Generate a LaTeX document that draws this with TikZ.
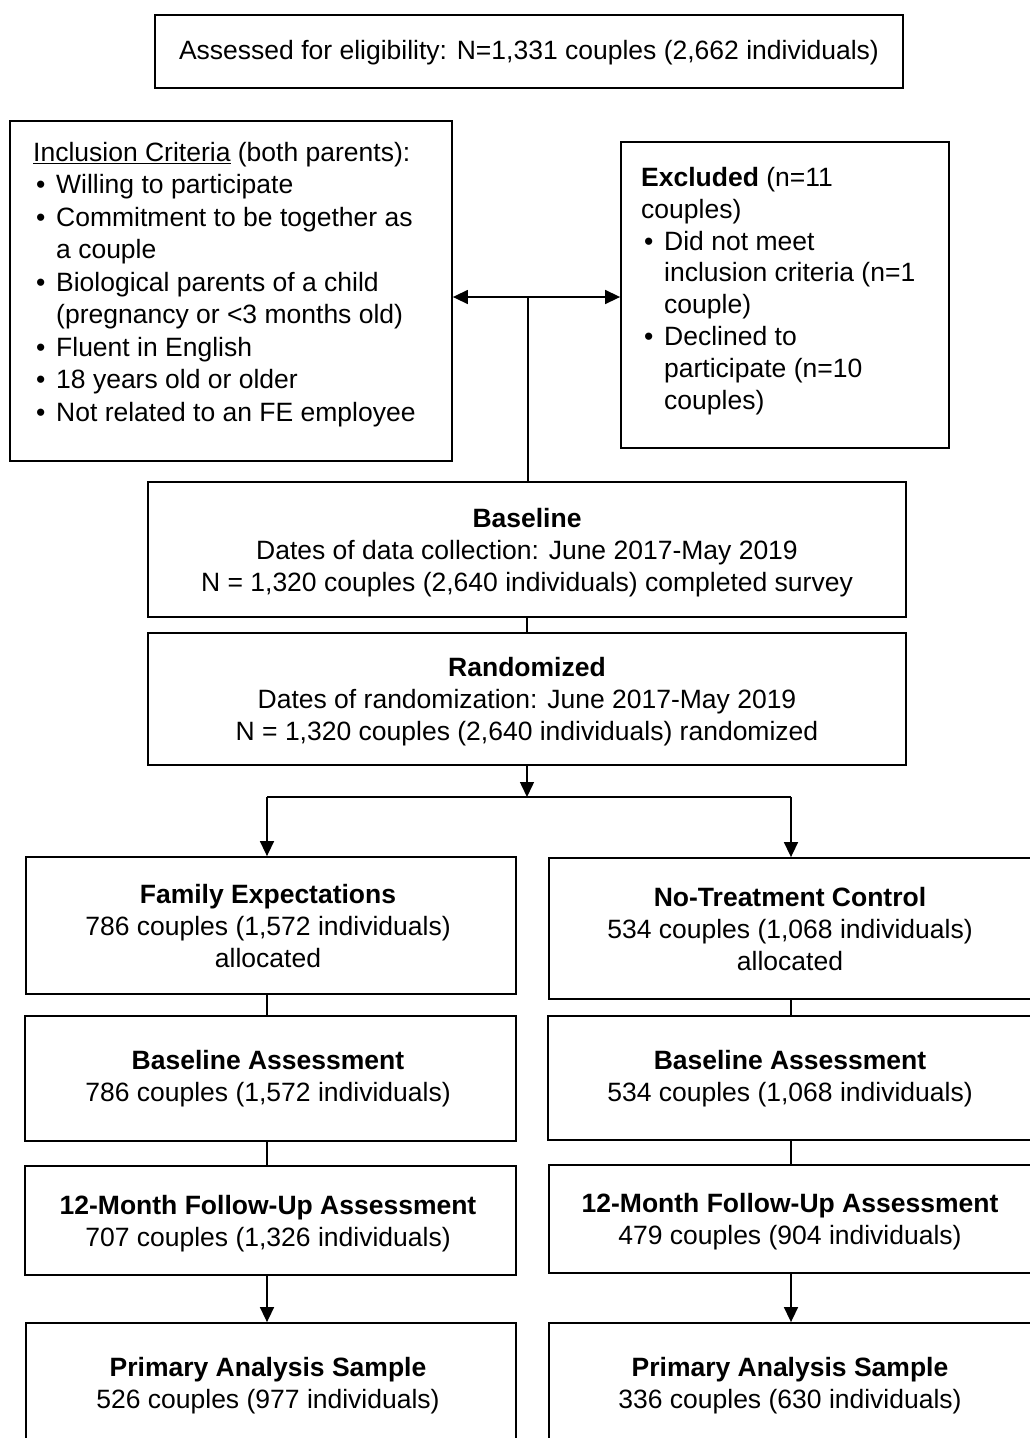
\documentclass[tikz,border=0pt]{standalone}
\usepackage{fontspec}
\setmainfont{Liberation Sans}
\usetikzlibrary{arrows.meta,fit}
\newcommand\bul{\hspace*{3pt}\makebox[20pt][l]{\textbullet}}
\newcommand\ind{\hspace*{23pt}}
\begin{document}
\begin{tikzpicture}[x=1pt,y=-1pt,
  box/.style={draw, line width=1.8pt, inner sep=0pt, fit={#1}},
  txt/.style={font=\fontsize{26.5}{32}\selectfont, align=center, inner sep=0pt},
  ltxt/.style={font=\fontsize{26.5}{32.5}\selectfont, align=left, inner sep=0pt, anchor=north west},
  conn/.style={line width=1.5pt},
  arr/.style={line width=1.5pt, -{Triangle[length=15pt,width=14pt]}},
  darr/.style={line width=1.5pt, {Triangle[length=15pt,width=14pt]}-{Triangle[length=15pt,width=14pt]}}
]
\useasboundingbox[fill=white] (0,0) rectangle (1029,1438);

% boxes
\node[box={(155,15) (903,88)}] (top) {};
\node[box={(10,121) (452,461)}] (incl) {};
\node[box={(621,142) (949,448)}] (excl) {};
\node[box={(148,482) (906,617)}] (base) {};
\node[box={(148,633) (906,765)}] (rand) {};
\node[box={(26,857) (516,994)}] (fe) {};
\node[box={(549,858) (1040,999)}] (ntc) {};
\node[box={(25,1016) (516,1141)}] (feba) {};
\node[box={(548,1016) (1040,1140)}] (ntcba) {};
\node[box={(25,1166) (516,1275)}] (fefu) {};
\node[box={(549,1165) (1040,1273)}] (ntcfu) {};
\node[box={(26,1323) (516,1450)}] (fepa) {};
\node[box={(549,1323) (1040,1450)}] (ntcpa) {};

% texts
\node[txt] (ttop) at (529,53) {Assessed for eligibility: N=1,331 couples (2,662 individuals)};
\node[ltxt] (tincl) at (33,142) {\underline{Inclusion Criteria} (both parents):\\
\bul Willing to participate\\
\bul Commitment to be together as\\
\ind a couple\\
\bul Biological parents of a child\\
\ind (pregnancy or <3 months old)\\
\bul Fluent in English\\
\bul 18 years old or older\\
\bul Not related to an FE employee};
\node[ltxt, font=\fontsize{26.5}{31.8}\selectfont] (texcl) at (641,167) {\textbf{Excluded} (n=11\\
couples)\\
\bul Did not meet\\
\ind inclusion criteria (n=1\\
\ind couple)\\
\bul Declined to\\
\ind participate (n=10\\
\ind couples)};
\node[txt] (tbase) at (527,553) {\textbf{Baseline}\\Dates of data collection: June 2017-May 2019\\N = 1,320 couples (2,640 individuals) completed survey};
\node[txt] (trand) at (527,702) {\textbf{Randomized}\\Dates of randomization: June 2017-May 2019\\N = 1,320 couples (2,640 individuals) randomized};
\node[txt] (tfe) at (268,926) {\textbf{Family Expectations}\\786 couples (1,572 individuals)\\allocated};
\node[txt] (tntc) at (790,929) {\textbf{No-Treatment Control}\\534 couples (1,068 individuals)\\allocated};
\node[txt] (tfeba) at (268,1079) {\textbf{Baseline Assessment}\\786 couples (1,572 individuals)};
\node[txt] (tntcba) at (790,1079) {\textbf{Baseline Assessment}\\534 couples (1,068 individuals)};
\node[txt] (tfefu) at (268,1224) {\textbf{12-Month Follow-Up Assessment}\\707 couples (1,326 individuals)};
\node[txt] (tntcfu) at (790,1222) {\textbf{12-Month Follow-Up Assessment}\\479 couples (904 individuals)};
\node[txt] (tfepa) at (268,1386) {\textbf{Primary Analysis Sample}\\526 couples (977 individuals)};
\node[txt] (tntcpa) at (790,1386) {\textbf{Primary Analysis Sample}\\336 couples (630 individuals)};

% connectors
\coordinate (j) at (528,297);
\coordinate (split) at (527,797);
\coordinate (lb) at (267,797);
\coordinate (rb) at (791,797);
\coordinate (ml) at (448,797);
\coordinate (mr) at (612,797);
\draw[darr] (incl.east |- j) -- (excl.west |- j);
\draw[conn] (j) -- (j |- base.north);
\draw[conn] (base.south) -- (rand.north);
\draw[arr] (rand.south) -- (split);
\draw[conn] (lb) -- (rb);
\draw[line width=2.4pt] (ml) -- (mr);
\draw[arr] (lb) -- (lb |- fe.north);
\draw[arr] (rb) -- (rb |- ntc.north);
\draw[conn] (lb |- fe.south) -- (lb |- feba.north);
\draw[conn] (rb |- ntc.south) -- (rb |- ntcba.north);
\draw[conn] (lb |- feba.south) -- (lb |- fefu.north);
\draw[conn] (rb |- ntcba.south) -- (rb |- ntcfu.north);
\draw[arr] (lb |- fefu.south) -- (lb |- fepa.north);
\draw[arr] (rb |- ntcfu.south) -- (rb |- ntcpa.north);
\end{tikzpicture}
\end{document}
